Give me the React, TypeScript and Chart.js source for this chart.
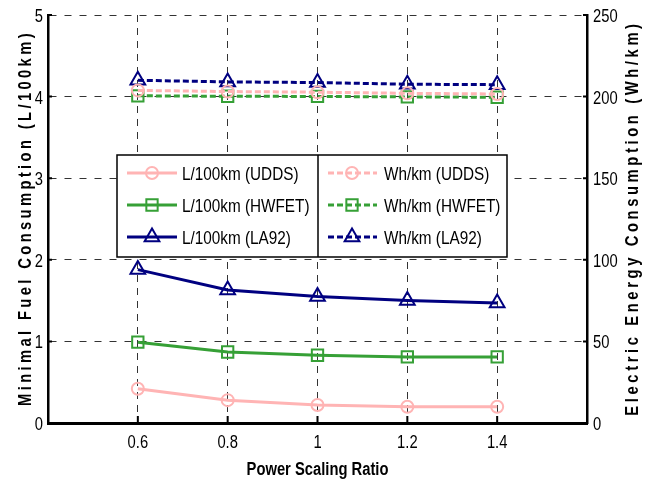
import React, { useEffect, useRef } from 'react';
import { Chart, registerables } from 'chart.js';

Chart.register(...registerables);

// ---- data ----
const ratios = [0.6, 0.8, 1.0, 1.2, 1.4];
const xTickLabels = ['0.6', '0.8', '1', '1.2', '1.4'];
const leftTickValues = [0, 1, 2, 3, 4, 5];
const rightTickValues = [0, 50, 100, 150, 200, 250];

const fuelUDDS = [0.42, 0.28, 0.22, 0.2, 0.2];
const fuelHWFET = [0.99, 0.87, 0.83, 0.81, 0.81];
const fuelLA92 = [1.88, 1.63, 1.55, 1.5, 1.47];

const elecUDDS = [203.8, 203.1, 202.7, 202.0, 201.6];
const elecHWFET = [200.5, 200.2, 200.1, 199.8, 199.6];
const elecLA92 = [210.0, 209.0, 208.6, 207.6, 207.3];

const seriesLabels = [
  'L/100km (UDDS)',
  'L/100km (HWFET)',
  'L/100km (LA92)',
  'Wh/km (UDDS)',
  'Wh/km (HWFET)',
  'Wh/km (LA92)',
];

const xTitle = 'Power Scaling Ratio';
const leftTitle = 'Minimal Fuel Consumption (L/100km)';
const rightTitle = 'Electric Energy Consumption (Wh/km)';

// ---- styles ----
const FONT = "'Liberation Sans', Arial, sans-serif";
const SX = 0.82; // horizontal condensing to mimic a narrow face
const PINK = '#ffb4b4';
const GREEN = '#36a036';
const NAVY = '#000080';
const DASH = [6, 3];

type Shape = 'circle' | 'rect' | 'triangle';
const shapes: Shape[] = ['circle', 'rect', 'triangle'];
const colors = [PINK, GREEN, NAVY];
const radii = [6, 8, 8.5];

function drawMarker(ctx: CanvasRenderingContext2D, shape: Shape, x: number, y: number, r: number, color: string) {
  ctx.save();
  ctx.setLineDash([]);
  ctx.strokeStyle = color;
  ctx.lineWidth = 2;
  ctx.beginPath();
  if (shape === 'circle') {
    ctx.arc(x, y, r, 0, Math.PI * 2);
  } else if (shape === 'rect') {
    const s = Math.SQRT1_2 * r;
    ctx.rect(x - s, y - s, 2 * s, 2 * s);
  } else {
    let a = 0;
    ctx.moveTo(x + Math.sin(a) * r, y - Math.cos(a) * r);
    a += (2 * Math.PI) / 3;
    ctx.lineTo(x + Math.sin(a) * r, y - Math.cos(a) * r);
    a += (2 * Math.PI) / 3;
    ctx.lineTo(x + Math.sin(a) * r, y - Math.cos(a) * r);
    ctx.closePath();
  }
  ctx.stroke();
  ctx.restore();
}

function text(
  ctx: CanvasRenderingContext2D,
  s: string,
  x: number,
  y: number,
  opts: { font: string; align: CanvasTextAlign; baseline: CanvasTextBaseline; rotate?: number; spacing?: number; sx?: number }
) {
  ctx.save();
  ctx.fillStyle = '#000';
  ctx.font = opts.font;
  ctx.textAlign = opts.align;
  ctx.textBaseline = opts.baseline;
  (ctx as any).letterSpacing = `${opts.spacing || 0}px`;
  ctx.translate(x, y);
  if (opts.rotate) ctx.rotate(opts.rotate);
  ctx.scale(opts.sx || SX, 1);
  ctx.fillText(s, 0, 0);
  ctx.restore();
}

const decorPlugin = {
  id: 'decor',
  afterDraw(chart: any) {
    const ctx: CanvasRenderingContext2D = chart.ctx;
    const { left, right, bottom } = chart.chartArea;
    const xs = chart.scales.x;
    const yl = chart.scales.y;
    const yr = chart.scales.y2;
    const tickFont = `18px ${FONT}`;

    // inward tick marks
    ctx.save();
    ctx.strokeStyle = '#000';
    ctx.lineWidth = 2;
    ctx.beginPath();
    ratios.forEach((v) => {
      const px = xs.getPixelForValue(v);
      ctx.moveTo(px, bottom);
      ctx.lineTo(px, bottom - 7);
    });
    leftTickValues.forEach((v) => {
      const py = yl.getPixelForValue(v);
      ctx.moveTo(left, py);
      ctx.lineTo(left + 4, py);
    });
    rightTickValues.forEach((v) => {
      const py = yr.getPixelForValue(v);
      ctx.moveTo(right, py);
      ctx.lineTo(right - 4, py);
    });
    ctx.stroke();
    ctx.restore();

    // tick labels
    ratios.forEach((v, i) => {
      text(ctx, xTickLabels[i], xs.getPixelForValue(v), 448, { font: tickFont, align: 'center', baseline: 'alphabetic' });
    });
    leftTickValues.forEach((v) => {
      text(ctx, String(v), left - 5, yl.getPixelForValue(v) + 7, { font: tickFont, align: 'right', baseline: 'alphabetic' });
    });
    rightTickValues.forEach((v) => {
      text(ctx, String(v), right + 6, yr.getPixelForValue(v) + 7, { font: tickFont, align: 'left', baseline: 'alphabetic' });
    });

    // axis titles
    const titleFont = `bold 18px ${FONT}`;
    text(ctx, xTitle, (left + right) / 2, 475, { font: titleFont, align: 'center', baseline: 'alphabetic' });
    text(ctx, leftTitle, 31, 218, { font: titleFont, align: 'center', baseline: 'alphabetic', rotate: -Math.PI / 2, spacing: 4.1 });
    text(ctx, rightTitle, 638, 218, { font: titleFont, align: 'center', baseline: 'alphabetic', rotate: -Math.PI / 2, spacing: 4.4 });

    // legend
    const bx = 117, by = 155, bw = 390, bh = 102, divX = 318;
    const rows = [173, 205, 237];
    ctx.save();
    ctx.fillStyle = '#fff';
    ctx.fillRect(bx, by, bw, bh);
    ctx.strokeStyle = '#000';
    ctx.lineWidth = 1.5;
    ctx.strokeRect(bx, by, bw, bh);
    ctx.beginPath();
    ctx.moveTo(divX, by);
    ctx.lineTo(divX, by + bh);
    ctx.stroke();
    ctx.restore();
    const cols = [
      { x0: 127, x1: 177, mx: 152, tx: 182, dash: [] as number[] },
      { x0: 328, x1: 377, mx: 352, tx: 384, dash: DASH },
    ];
    cols.forEach((c, ci) => {
      rows.forEach((ry, ri) => {
        ctx.save();
        ctx.strokeStyle = colors[ri];
        ctx.lineWidth = 3;
        ctx.setLineDash(c.dash);
        ctx.beginPath();
        ctx.moveTo(c.x0, ry);
        ctx.lineTo(c.x1, ry);
        ctx.stroke();
        ctx.restore();
        drawMarker(ctx, shapes[ri], c.mx, ry, radii[ri], colors[ri]);
        text(ctx, seriesLabels[ci * 3 + ri], c.tx, ry + 7, { font: `18px ${FONT}`, align: 'left', baseline: 'alphabetic', sx: 0.85 });
      });
    });
  },
};

function mk(values: number[], idx: number, axis: string, dashed: boolean, label: string) {
  return {
    label,
    data: ratios.map((x, i) => ({ x, y: values[i] })),
    yAxisID: axis,
    borderColor: colors[idx],
    backgroundColor: 'transparent',
    borderWidth: 3,
    borderDash: dashed ? DASH : [],
    pointStyle: shapes[idx],
    pointRadius: radii[idx],
    pointBorderWidth: 2,
    pointBorderColor: colors[idx],
    pointBackgroundColor: 'transparent',
    tension: 0,
    fill: false,
  };
}

export default function App() {
  const ref = useRef<HTMLCanvasElement | null>(null);

  useEffect(() => {
    if (!ref.current) return;
    const chart = new Chart(ref.current, {
      type: 'line',
      data: {
        datasets: [
          mk(fuelUDDS, 0, 'y', false, seriesLabels[0]),
          mk(fuelHWFET, 1, 'y', false, seriesLabels[1]),
          mk(fuelLA92, 2, 'y', false, seriesLabels[2]),
          mk(elecUDDS, 0, 'y2', true, seriesLabels[3]),
          mk(elecHWFET, 1, 'y2', true, seriesLabels[4]),
          mk(elecLA92, 2, 'y2', true, seriesLabels[5]),
        ] as any,
      },
      options: {
        animation: false,
        responsive: true,
        maintainAspectRatio: false,
        layout: { padding: { top: 15, left: 0, right: 0, bottom: 0 } },
        plugins: { legend: { display: false }, tooltip: { enabled: false } },
        scales: {
          x: {
            type: 'linear',
            min: 0.4,
            max: 1.6,
            afterBuildTicks: (s: any) => {
              s.ticks = ratios.map((v) => ({ value: v }));
            },
            ticks: { display: false },
            grid: { color: '#333', lineWidth: 1, drawTicks: false },
            border: { display: true, color: '#000', width: 3, dash: [7, 6] },
            afterFit: (s: any) => {
              s.height = 63;
            },
          },
          y: {
            type: 'linear',
            position: 'left',
            min: 0,
            max: 5,
            afterBuildTicks: (s: any) => {
              s.ticks = leftTickValues.map((v) => ({ value: v }));
            },
            ticks: { display: false },
            grid: { color: '#333', lineWidth: 1, drawTicks: false },
            border: { display: true, color: '#000', width: 2.5, dash: [7, 8] },
            afterFit: (s: any) => {
              s.width = 48;
            },
          },
          y2: {
            type: 'linear',
            position: 'right',
            min: 0,
            max: 250,
            ticks: { display: false },
            grid: { display: false, drawTicks: false },
            border: { display: true, color: '#000', width: 2.5 },
            afterFit: (s: any) => {
              s.width = 67;
            },
          },
        },
      } as any,
      plugins: [decorPlugin],
    });
    return () => chart.destroy();
  }, []);

  return (
    <div style={{ position: 'absolute', left: 0, top: 0, width: 654, height: 486, background: '#fff' }}>
      <canvas ref={ref} />
    </div>
  );
}
